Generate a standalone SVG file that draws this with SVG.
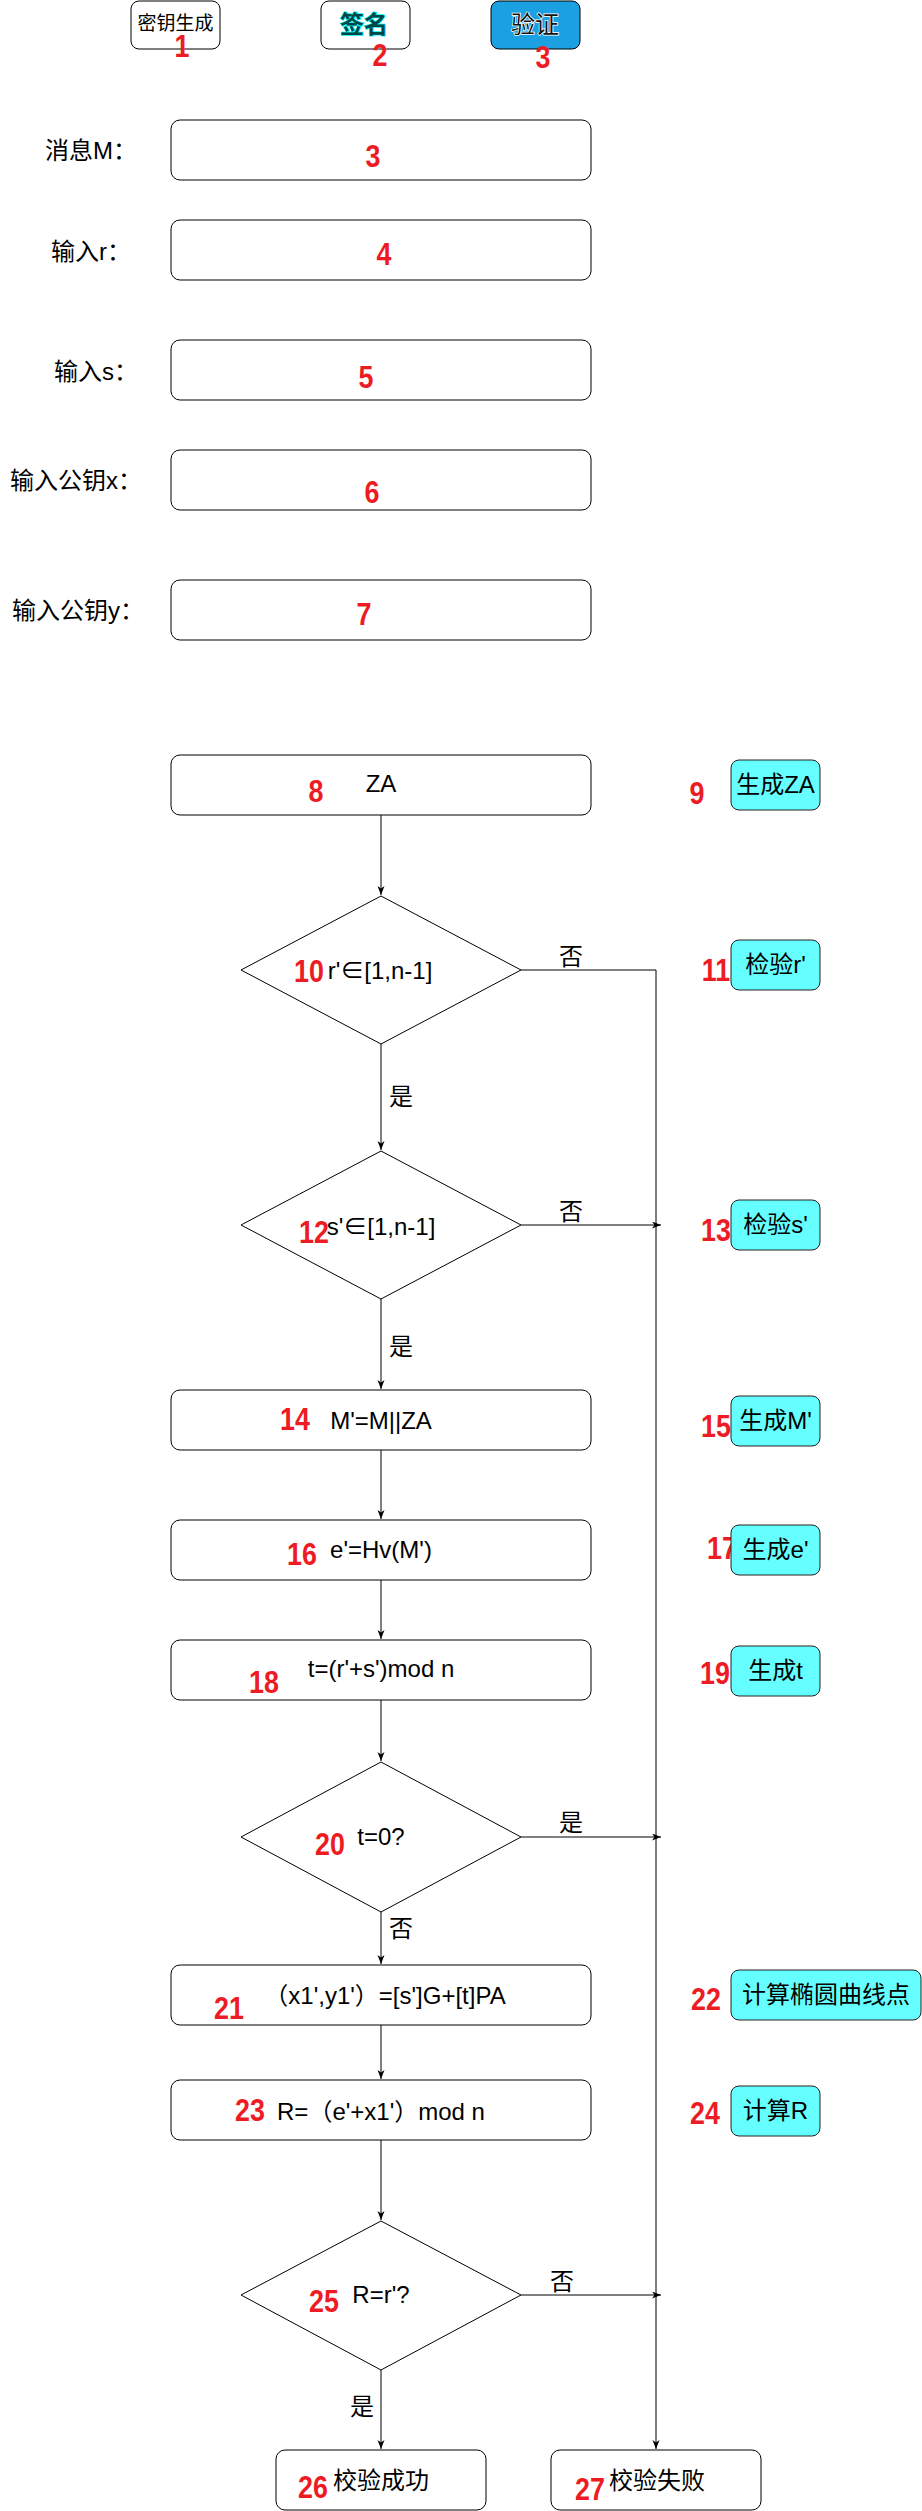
<svg xmlns="http://www.w3.org/2000/svg" width="922" height="2511" viewBox="0 0 922 2511">
<defs>
<style>
.box{fill:#fff;stroke:#000;stroke-width:1}
.cyan{fill:#66FFFF;stroke:#222;stroke-width:1}
.t{font-family:"Liberation Sans","Noto Sans CJK SC",sans-serif;font-size:24px;fill:#000}
.num{font-family:"Liberation Sans Narrow","Liberation Sans",sans-serif;font-weight:bold;font-size:32px;fill:#ED1C24;text-anchor:middle;dominant-baseline:central;transform-box:fill-box;transform-origin:center;transform:scaleX(0.84)}
.c{text-anchor:middle;dominant-baseline:central}
.l{dominant-baseline:central}
.edge{stroke:#000;fill:none;stroke-width:1}
</style>
<marker id="arr" markerUnits="userSpaceOnUse" markerWidth="10" markerHeight="8" refX="9" refY="3.5" orient="auto">
<path d="M0,0 L9,3.5 L0,7 L2.5,3.5 z" fill="#000"/>
</marker>
</defs>
<rect width="922" height="2511" fill="#fff"/>

<!-- top buttons -->
<g id="btn-keygen">
<rect class="box" x="131" y="1" width="89" height="48" rx="8"/>
<text class="t c" x="175.5" y="23" style="font-size:19px">密钥生成</text>
<text class="num" x="182" y="46">1</text>
</g>
<g id="btn-sign">
<rect class="box" x="321" y="1" width="89" height="48" rx="8"/>
<text class="t c" x="364" y="24" style="font-weight:bold;fill:#004848;stroke:#00F0F0;stroke-width:1.5;paint-order:stroke">签名</text>
<text class="num" x="380" y="55">2</text>
</g>
<g id="btn-verify">
<rect x="491" y="1" width="89" height="48" rx="8" fill="#1BA1E2" stroke="#000" stroke-width="1"/>
<text class="t c" x="535" y="24" style="fill:#111;stroke:#fff;stroke-width:1.5;paint-order:stroke">验证</text>
<text class="num" x="543" y="57">3</text>
</g>

<!-- inputs -->
<g id="in-M">
<text class="t l" x="45" y="150">消息M：</text>
<rect class="box" x="171" y="120" width="420" height="60" rx="9"/>
<text class="num" x="373" y="156">3</text>
</g>
<g id="in-r">
<text class="t l" x="51" y="251">输入r：</text>
<rect class="box" x="171" y="220" width="420" height="60" rx="9"/>
<text class="num" x="384" y="254">4</text>
</g>
<g id="in-s">
<text class="t l" x="54" y="371">输入s：</text>
<rect class="box" x="171" y="340" width="420" height="60" rx="9"/>
<text class="num" x="366" y="377">5</text>
</g>
<g id="in-x">
<text class="t l" x="10" y="480">输入公钥x：</text>
<rect class="box" x="171" y="450" width="420" height="60" rx="9"/>
<text class="num" x="372" y="492">6</text>
</g>
<g id="in-y">
<text class="t l" x="12" y="610">输入公钥y：</text>
<rect class="box" x="171" y="580" width="420" height="60" rx="9"/>
<text class="num" x="364" y="614">7</text>
</g>

<!-- connectors -->
<g id="connectors">
<path class="edge" d="M381,815 V895" marker-end="url(#arr)"/>
<path class="edge" d="M381,1044 V1150" marker-end="url(#arr)"/>
<path class="edge" d="M381,1299 V1389" marker-end="url(#arr)"/>
<path class="edge" d="M381,1450 V1519" marker-end="url(#arr)"/>
<path class="edge" d="M381,1580 V1639" marker-end="url(#arr)"/>
<path class="edge" d="M381,1700 V1761" marker-end="url(#arr)"/>
<path class="edge" d="M381,1912 V1964" marker-end="url(#arr)"/>
<path class="edge" d="M381,2025 V2079" marker-end="url(#arr)"/>
<path class="edge" d="M381,2140 V2220" marker-end="url(#arr)"/>
<path class="edge" d="M381,2370 V2449" marker-end="url(#arr)"/>
<path class="edge" d="M521,970 H656 V2449" marker-end="url(#arr)"/>
<path class="edge" d="M521,1225 H661" marker-end="url(#arr)"/>
<path class="edge" d="M521,1837 H661" marker-end="url(#arr)"/>
<path class="edge" d="M521,2295 H661" marker-end="url(#arr)"/>
<text class="t c" x="571" y="956">否</text>
<text class="t c" x="401" y="1096">是</text>
<text class="t c" x="571" y="1211">否</text>
<text class="t c" x="401" y="1346">是</text>
<text class="t c" x="571" y="1822">是</text>
<text class="t c" x="401" y="1928">否</text>
<text class="t c" x="562" y="2281">否</text>
<text class="t c" x="362" y="2406">是</text>
</g>

<!-- flow nodes -->
<g id="n8">
<rect class="box" x="171" y="755" width="420" height="60" rx="9"/>
<text class="t c" x="381" y="783">ZA</text>
<text class="num" x="316" y="791">8</text>
</g>
<g id="n9">
<text class="num" x="697" y="793">9</text>
<rect class="cyan" x="731" y="760" width="89" height="50" rx="8"/>
<text class="t c" x="775.5" y="784">生成ZA</text>
</g>
<g id="n10">
<polygon class="box" points="381,896 521,970 381,1044 241,970"/>
<text class="t c" x="380" y="970">r'∈[1,n-1]</text>
<text class="num" x="309" y="971">10</text>
</g>
<g id="n11">
<text class="num" x="716" y="970">11</text>
<rect class="cyan" x="731" y="940" width="89" height="50" rx="8"/>
<text class="t c" x="775.5" y="964">检验r'</text>
</g>
<g id="n12">
<polygon class="box" points="381,1151 521,1225 381,1299 241,1225"/>
<text class="t c" x="381" y="1226">s'∈[1,n-1]</text>
<text class="num" x="314" y="1232">12</text>
</g>
<g id="n13">
<text class="num" x="716" y="1230">13</text>
<rect class="cyan" x="731" y="1200" width="89" height="50" rx="8"/>
<text class="t c" x="775.5" y="1224">检验s'</text>
</g>
<g id="n14">
<rect class="box" x="171" y="1390" width="420" height="60" rx="9"/>
<text class="t c" x="381" y="1420">M'=M||ZA</text>
<text class="num" x="295" y="1419">14</text>
</g>
<g id="n15">
<text class="num" x="716" y="1426">15</text>
<rect class="cyan" x="731" y="1396" width="89" height="50" rx="8"/>
<text class="t c" x="775.5" y="1420">生成M'</text>
</g>
<g id="n16">
<rect class="box" x="171" y="1520" width="420" height="60" rx="9"/>
<text class="t c" x="381" y="1549">e'=Hv(M')</text>
<text class="num" x="302" y="1554">16</text>
</g>
<g id="n17">
<text class="num" x="722" y="1548">17</text>
<rect class="cyan" x="731" y="1525" width="89" height="50" rx="8"/>
<text class="t c" x="775.5" y="1549">生成e'</text>
</g>
<g id="n18">
<rect class="box" x="171" y="1640" width="420" height="60" rx="9"/>
<text class="t c" x="381" y="1668">t=(r'+s')mod n</text>
<text class="num" x="264" y="1682">18</text>
</g>
<g id="n19">
<text class="num" x="715" y="1673">19</text>
<rect class="cyan" x="731" y="1646" width="89" height="50" rx="8"/>
<text class="t c" x="775.5" y="1670">生成t</text>
</g>
<g id="n20">
<polygon class="box" points="381,1762 521,1837 381,1912 241,1837"/>
<text class="t c" x="381" y="1836">t=0?</text>
<text class="num" x="330" y="1844">20</text>
</g>
<g id="n21">
<rect class="box" x="171" y="1965" width="420" height="60" rx="9"/>
<text class="t c" x="385" y="1995">（x1',y1'）=[s']G+[t]PA</text>
<text class="num" x="229" y="2008">21</text>
</g>
<g id="n22">
<text class="num" x="706" y="1999">22</text>
<rect class="cyan" x="731" y="1970" width="190" height="50" rx="8"/>
<text class="t c" x="826" y="1994">计算椭圆曲线点</text>
</g>
<g id="n23">
<rect class="box" x="171" y="2080" width="420" height="60" rx="9"/>
<text class="t c" x="381" y="2111">R=（e'+x1'）mod n</text>
<text class="num" x="250" y="2110">23</text>
</g>
<g id="n24">
<text class="num" x="705" y="2113">24</text>
<rect class="cyan" x="731" y="2086" width="89" height="50" rx="8"/>
<text class="t c" x="775.5" y="2110">计算R</text>
</g>
<g id="n25">
<polygon class="box" points="381,2221 521,2295 381,2370 241,2295"/>
<text class="t c" x="381" y="2294">R=r'?</text>
<text class="num" x="324" y="2301">25</text>
</g>
<g id="n26">
<rect class="box" x="276" y="2450" width="210" height="60" rx="9"/>
<text class="t c" x="381" y="2480">校验成功</text>
<text class="num" x="313" y="2487">26</text>
</g>
<g id="n27">
<rect class="box" x="551" y="2450" width="210" height="60" rx="9"/>
<text class="t c" x="657" y="2480">校验失败</text>
<text class="num" x="590" y="2489">27</text>
</g>
</svg>
